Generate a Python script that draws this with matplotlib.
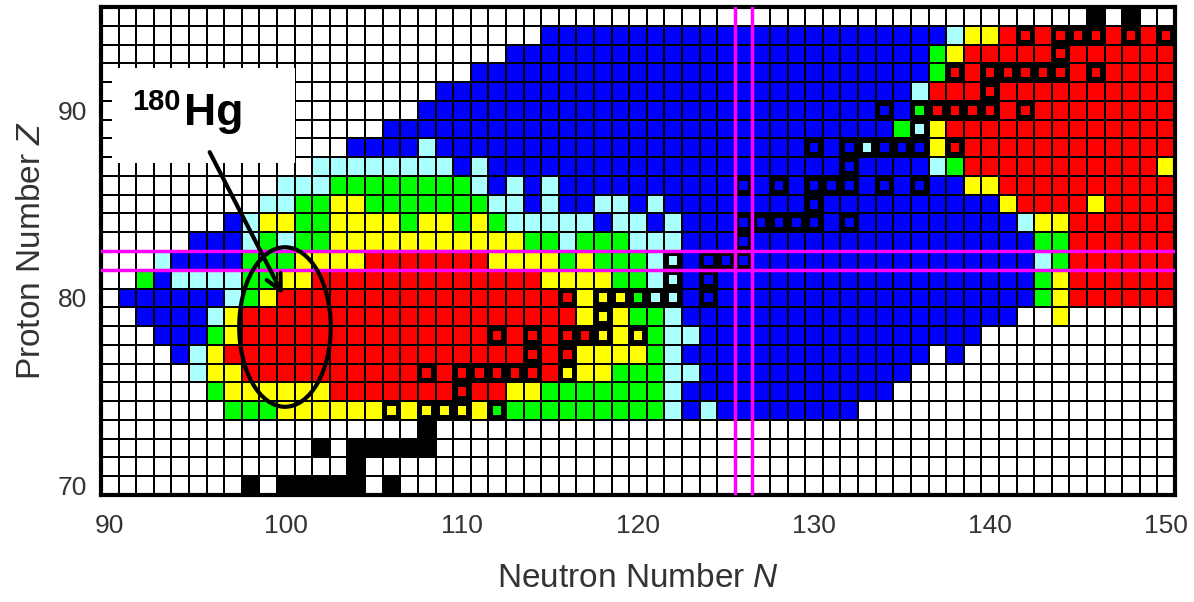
import numpy as np
import matplotlib
matplotlib.use('Agg')
import matplotlib.pyplot as plt
from matplotlib.colors import ListedColormap
from matplotlib.patches import Rectangle, Ellipse
from matplotlib.collections import PatchCollection

plt.rcParams['font.family'] = 'Liberation Sans'
plt.rcParams['mathtext.fontset'] = 'custom'
plt.rcParams['mathtext.it'] = 'Liberation Sans:italic'
plt.rcParams['mathtext.rm'] = 'Liberation Sans'

# chart of nuclides, columns N = 90..150, rows Z = 95 down to 70
# . empty, B/C/G/Y/R colour classes, K black, lower case = small square in a black cell
n_min, n_max = 90, 150
z_rows = list(range(95, 69, -1))
cells = [
    ".......... .......... .......... .......... .......... ......K.K. .",  # 95
    ".......... .......... .....BBBBB BBBBBBBBBB BBBBBBBBCY YRrRrrrRrR r",  # 94
    ".......... .......... ...BBBBBBB BBBBBBBBBB BBBBBBBGYR RRRRrRRRRR R",  # 93
    ".......... .......... .BBBBBBBBB BBBBBBBBBB BBBBBBBGrR rrrrrRrRRR R",  # 92
    ".......... .........B BBBBBBBBBB BBBBBBBBBB BBBBBBCRRR rRRRRRRRRR R",  # 91
    ".......... ........BB BBBBBBBBBB BBBBBBBBBB BBBBbBgrrr rRrRRRRRRR R",  # 90
    ".......... ......BBBB BBBBBBBBBB BBBBBBBBBB BBBBBGcYRR RRRRRRRRRR R",  # 89
    ".......... ....BBBBCB BBBBBBBBBB BBBBBBBBBB bBbcbbbYrR RRRRRRRRRR R",  # 88
    ".......... ..CCCCCCCC BCBBBBBBBB BBBBBBBBBB BBbBBBBCGR RRRRRRRRRR Y",  # 87
    ".......... CCCGGGGGGG GCBCBCBBBB BBBBBBbBbB bbbBbBbBBY YRRRRRRRRR R",  # 86
    ".........C CGGYYGGGGG GGCCBCBBCC BCBBBBBBBB bBBBBBBBBB BYRRRRYRRR R",  # 85
    ".......BCY YGGYYYYGYY GYGCCCCCBC CBCBBBbbbb bBbBBBBBBB BBCYYRRRRR R",  # 84
    ".....BBBCG CGGYYYYYYY YYYYGGCGGG CCCBBBbBBB BBBBBBBBBB BBBGGRRRRR R",  # 83
    "...CBBBBGG GYYYYRRRRR RRYYYYGYGG GCcBbbbBBB BBBBBBBBBB BBBCGRRRRR R",  # 82
    "..GBCCCCGG YYRRRRRRRR RRRRRYYYYG GCcBbBBBBB BBBBBBBBBB BBBGYRRRRR R",  # 81
    ".BBBBBBCGY RRRRRRRRRR RRRRRRrYyy gccBbBBBBB BBBBBBBBBB BBBGYRRRRR R",  # 80
    "..BBBBCYRR RRRRRRRRRR RRRRRRRYyY GGCBBBBBBB BBBBBBBBBB BB..Y..... .",  # 79
    "...BBBGYRR RRRRRRRRRR RRrRrRrryY yGCCBBBBBB BBBBBBBBBB .......... .",  # 78
    "....BCYRRR RRRRRRRRRR RRRRrRrYYY YGCBBBBBBB BBBBBBB.B. .......... .",  # 77
    ".....CYYRR RRRRRRRRrR rrrrrRyYYG GGCCBBBBBB BBBBBB.... .......... .",  # 76
    "......GYYY YYYRRRRRRR rRRYYGGGGG GGCBBBBBBB BBBBB..... .......... .",  # 75
    ".......GGG YYYYYYyYyy yYgGGGGGGG GGCBCBBBBB BBB....... .......... .",  # 74
    ".......... ........K. .......... .......... .......... .......... .",  # 73
    ".......... ..K.KKKKK. .......... .......... .......... .......... .",  # 72
    ".......... ....K..... .......... .......... .......... .......... .",  # 71
    "........K. KKKKK.K... .......... .......... .......... .......... .",  # 70
]
codes = ".BCGYRK"
palette = ["#ffffff", "#0000ff", "#aaffff", "#00ff00", "#ffff00", "#ff0000", "#000000"]

x_ticks = [90, 100, 110, 120, 130, 140, 150]
y_ticks = [70, 80, 90]
magic_z = 82
magic_n = 126

grid = np.zeros((len(z_rows), n_max - n_min + 1), dtype=int)
small = []
for r, row in enumerate(cells):
    row = row.replace(" ", "")
    for c, ch in enumerate(row):
        if ch.islower():
            grid[r, c] = codes.index("K")
            small.append((n_min + c, z_rows[r], palette[codes.index(ch.upper())]))
        else:
            grid[r, c] = codes.index(ch)

fig = plt.figure(figsize=(11.94, 6.02), dpi=100)
ax = fig.add_axes([101 / 1194, 107 / 602, 1074 / 1194, 488 / 602])

n_edges = np.arange(n_min - 0.5, n_max + 1.5)
z_edges = np.arange(z_rows[-1] - 0.5, z_rows[0] + 1.5)
ax.pcolormesh(n_edges, z_edges, grid[::-1], cmap=ListedColormap(palette),
              vmin=-0.5, vmax=len(palette) - 0.5, edgecolors="black", linewidth=1.4)

s = 0.48
patches = [Rectangle((n - s / 2, z - s / 2), s, s) for n, z, col in small]
ax.add_collection(PatchCollection(patches, facecolors=[col for n, z, col in small],
                                  edgecolors="none", zorder=3))

for v in (magic_z - 0.5, magic_z + 0.5):
    ax.axhline(v, color="#ff00ff", lw=2.5, zorder=4)
for v in (magic_n - 0.5, magic_n + 0.5):
    ax.axvline(v, color="#ff00ff", lw=2.5, zorder=4)

# label box with arrow and ellipse around 180Hg
ax.add_patch(Rectangle((90.12, 87.19), 10.38, 5.06, facecolor="white", edgecolor="none", zorder=5))
ax.text(91.28, 90.0, "180", fontsize=21, fontweight="bold", va="baseline", zorder=6)
ax.text(94.2, 89.21, "Hg", fontsize=32, fontweight="bold", va="baseline", zorder=6)
ax.annotate("", xy=(99.9, 80.05), xytext=(95.6, 87.9),
            arrowprops=dict(arrowstyle="->", lw=3, color="black", mutation_scale=28), zorder=6)
ax.add_patch(Ellipse((99.95, 78.45), 5.2, 8.5, fill=False, lw=3, edgecolor="black", zorder=6))

ax.set_xlim(n_min - 0.5, n_max + 0.5)
ax.set_ylim(z_rows[-1] - 0.5, z_rows[0] + 0.5)
ax.set_xticks(x_ticks)
ax.set_yticks(y_ticks)
ax.tick_params(length=0, labelsize=19, labelcolor="#333333")
ax.tick_params(axis="x", pad=14)
ax.tick_params(axis="y", pad=10)
for sp in ax.spines.values():
    sp.set_linewidth(3)
ax.set_xlabel("Neutron Number $N$", fontsize=24, color="#333333", labelpad=18)
ax.set_ylabel("Proton Number $Z$", fontsize=24, color="#333333", labelpad=8)

fig.savefig("out.png", dpi=100)
